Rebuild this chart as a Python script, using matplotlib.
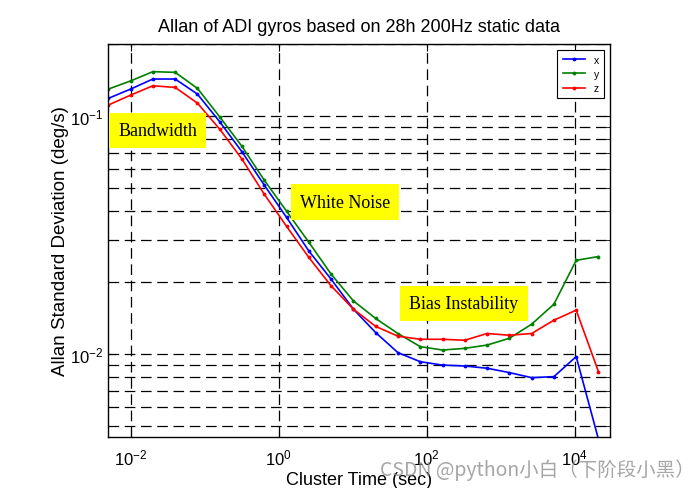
import numpy as np
import matplotlib
matplotlib.use('Agg')
import matplotlib.pyplot as plt
from matplotlib.ticker import LogLocator, NullLocator, NullFormatter, FixedLocator

plt.rcParams['font.family'] = ['Liberation Sans', 'DejaVu Sans']
plt.rcParams['mathtext.fontset'] = 'custom'
plt.rcParams['mathtext.rm'] = 'Liberation Sans'

# cluster times: 0.005 s * 2^n
tau = [0.005 * 2 ** n for n in range(23)]

# Allan deviation per axis (deg/s)
adev_x = [0.1183, 0.1294, 0.1426, 0.1426, 0.1233, 0.0944, 0.0706, 0.0512,
          0.0375, 0.0271, 0.02065, 0.01546, 0.01233, 0.01016, 0.00931, 0.00901,
          0.00893, 0.00874, 0.00838, 0.00798, 0.00806, 0.00978, 0.0044]
adev_y = [0.1294, 0.1400, 0.1531, 0.1521, 0.1303, 0.0990, 0.0744, 0.0537,
          0.0398, 0.0295, 0.02168, 0.01675, 0.01413, 0.01222, 0.01077, 0.01042,
          0.01059, 0.01093, 0.01167, 0.01337, 0.01622, 0.02477, 0.0257]
adev_z = [0.1109, 0.1221, 0.1336, 0.1315, 0.1130, 0.0879, 0.0658, 0.0469,
          0.0344, 0.02547, 0.01936, 0.01546, 0.01309, 0.01191, 0.01156, 0.01156,
          0.01145, 0.01222, 0.01202, 0.01222, 0.0139, 0.01531, 0.00845]

fig = plt.figure(figsize=(6.93, 4.89), dpi=100)
ax = fig.add_axes([0.1563, 0.1043, 0.7239, 0.8037])

ax.loglog(tau, adev_x, color='#0000ff', marker='.', ms=3.5, lw=1.2, label='x')
ax.loglog(tau, adev_y, color='#008000', marker='.', ms=3.5, lw=1.2, label='y')
ax.loglog(tau, adev_z, color='#ff0000', marker='.', ms=3.5, lw=1.2, label='z')

ax.set_xlim(0.005, 30000)
ax.set_ylim(0.0045, 0.2)

# major x ticks only, y gets minor ticks + minor grid (matlab style)
ax.xaxis.set_major_locator(FixedLocator([1e-2, 1e0, 1e2, 1e4]))
ax.xaxis.set_minor_locator(NullLocator())
ax.yaxis.set_major_locator(FixedLocator([1e-2, 1e-1]))
ax.yaxis.set_minor_locator(LogLocator(base=10, subs=np.arange(2, 10), numticks=10))
ax.yaxis.set_minor_formatter(NullFormatter())

dash = (0, (8.5, 4.5))
ax.grid(True, which='major', axis='both', color='black', lw=0.9, linestyle=dash)
ax.grid(True, which='minor', axis='y', color='black', lw=0.9, linestyle=dash)

ax.tick_params(which='both', direction='in', top=True, right=True, labelsize=12)
ax.tick_params(which='major', length=5)
ax.tick_params(which='minor', length=3)
ax.tick_params(axis='x', pad=7.5)
for s in ax.spines.values():
    s.set_linewidth(1.0)

ax.set_title('Allan of ADI gyros based on 28h 200Hz static data', fontsize=13, pad=9)
ax.set_xlabel('Cluster Time (sec)', fontsize=13, labelpad=3)
ax.set_ylabel('Allan Standard Deviation (deg/s)', fontsize=13.5, labelpad=1)

box = dict(facecolor='#ffff00', edgecolor='none', pad=6.5)
ax.text(0.0234, 0.0871, 'Bandwidth', family='Liberation Serif', fontsize=13,
        va='center', ha='center', bbox=box)
ax.text(7.96, 0.0435, 'White Noise', family='Liberation Serif', fontsize=13,
        va='center', ha='center', bbox=box)
ax.text(319, 0.0163, 'Bias Instability', family='Liberation Serif', fontsize=13,
        va='center', ha='center', bbox=box)

leg = ax.legend(loc='upper right', fontsize=7.5, handlelength=2.2, borderaxespad=0.55,
                fancybox=False, framealpha=1, edgecolor='black', labelspacing=0.4,
                borderpad=0.5)
leg.get_frame().set_linewidth(0.8)

fig.text(0.548, 0.026, 'CSDN @python小白（下阶段小黑）', fontsize=14, color='#888888',
         alpha=0.75, va='baseline', family=['Noto Sans CJK SC', 'DejaVu Sans'])

fig.savefig('out.png', dpi=100)
